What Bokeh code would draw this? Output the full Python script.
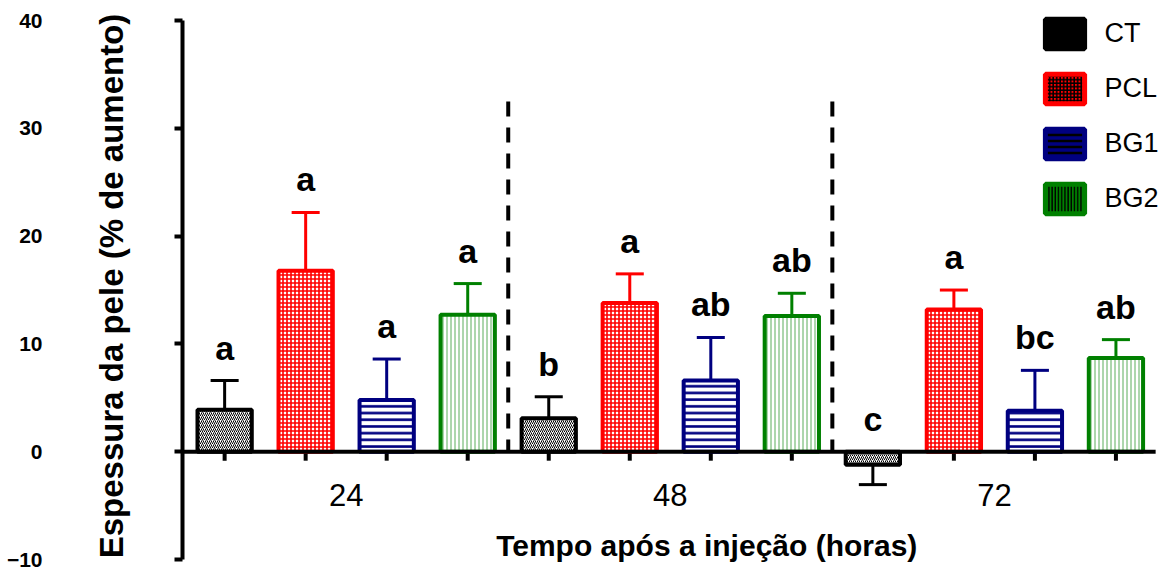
from bokeh.plotting import figure
from bokeh.models import (Range1d, Legend, LegendItem, FixedTicker, LinearAxis)
from bokeh.core.properties import value
from bokeh.embed import file_html
from bokeh.resources import INLINE

# ---------------- data ----------------
times = ["24", "48", "72"]
groups = ["CT", "PCL", "BG1", "BG2"]
ct_mean = [3.9, 3.1, -1.2]
ct_sd = [2.7, 2.0, 1.85]
pcl_mean = [16.8, 13.8, 13.2]
pcl_sd = [5.4, 2.7, 1.8]
bg1_mean = [4.8, 6.6, 3.8]
bg1_sd = [3.8, 4.0, 3.75]
bg2_mean = [12.7, 12.6, 8.7]
bg2_sd = [2.9, 2.1, 1.7]
ct_letters = ["a", "b", "c"]
pcl_letters = ["a", "a", "a"]
bg1_letters = ["a", "ab", "bc"]
bg2_letters = ["a", "ab", "ab"]
y_ticks = [-10, 0, 10, 20, 30, 40]
y_title = "Espessura da pele (% de aumento)"
x_title = "Tempo após a injeção (horas)"

FONT = "Liberation Sans"
colors = {"CT": "black", "PCL": "#FF0000", "BG1": "#000080", "BG2": "#008000"}
bar_hatch = {
    "CT": dict(hatch_pattern="/", hatch_color="black", hatch_scale=4, hatch_weight=1),
    "PCL": dict(hatch_pattern="+", hatch_color="#FF0000", hatch_scale=4, hatch_weight=1.6),
    "BG1": dict(hatch_pattern="-", hatch_color="#000080", hatch_scale=6.7, hatch_weight=2.6),
    "BG2": dict(hatch_pattern="|", hatch_color="#5aad5a", hatch_scale=4, hatch_weight=1),
}
leg_hatch = {
    "CT": dict(hatch_pattern=None),
    "PCL": dict(hatch_pattern="+", hatch_color="black", hatch_scale=3.5, hatch_weight=1.6),
    "BG1": dict(hatch_pattern="-", hatch_color="black", hatch_scale=6, hatch_weight=2.5),
    "BG2": dict(hatch_pattern="|", hatch_color="black", hatch_scale=3.2, hatch_weight=1.5),
}

means = {"CT": ct_mean, "PCL": pcl_mean, "BG1": bg1_mean, "BG2": bg2_mean}
sds = {"CT": ct_sd, "PCL": pcl_sd, "BG1": bg1_sd, "BG2": bg2_sd}
letters = {"CT": ct_letters, "PCL": pcl_letters, "BG1": bg1_letters, "BG2": bg2_letters}

ng = len(groups)
nt = len(times)

X0 = -0.52
p = figure(width=1163, height=571, x_range=Range1d(X0, 11.587), y_range=Range1d(-11.11, 41.86),
           output_backend="svg", toolbar_location=None, x_axis_location=None,
           min_border_left=182, min_border_right=0, min_border_top=0, min_border_bottom=0)
p.outline_line_color = None
p.grid.visible = False
p.background_fill_color = "white"

# inner y axis: line, ticks and title
ya = p.yaxis[0]
ya.ticker = FixedTicker(ticks=y_ticks)
ya.bounds = (min(y_ticks), max(y_ticks))
ya.axis_line_width = 4
ya.major_tick_line_width = 4
ya.major_tick_out = 8
ya.major_tick_in = 0
ya.minor_tick_line_color = None
ya.major_label_overrides = {t: "" for t in y_ticks}
ya.major_label_standoff = 0
ya.axis_label = y_title
ya.axis_label_standoff = 45
ya.axis_label_text_font = FONT
ya.axis_label_text_font_style = "bold"
ya.axis_label_text_font_size = "33px"
ya.axis_label_text_color = "black"

# outer y axis: tick labels only
yb = LinearAxis(ticker=FixedTicker(ticks=y_ticks), bounds=(min(y_ticks), max(y_ticks)),
                axis_line_color=None, major_tick_line_color=None, minor_tick_line_color=None,
                major_tick_out=0, major_tick_in=0, major_label_standoff=47,
                major_label_text_font=FONT, major_label_text_font_style="bold",
                major_label_text_font_size="21px", major_label_text_color="black")
p.add_layout(yb, "left")

tick_len = 0.83
cap_half = 0.173

# x tick marks under every bar
all_x = [ti * ng + gi for ti in range(nt) for gi in range(ng)]
p.segment(x0=all_x, y0=[0] * len(all_x), x1=all_x, y1=[-tick_len] * len(all_x),
          line_color="black", line_width=4)

items = []
for gi, g in enumerate(groups):
    xs = [ti * ng + gi for ti in range(nt)]
    m = means[g]
    s = sds[g]
    ends = [mi + si if mi >= 0 else mi - si for mi, si in zip(m, s)]
    col = colors[g]
    p.segment(x0=xs, y0=m, x1=xs, y1=ends, line_color=col, line_width=3)
    p.segment(x0=[x - cap_half for x in xs], y0=ends, x1=[x + cap_half for x in xs], y1=ends,
              line_color=col, line_width=3)
    p.vbar(x=xs, top=m, bottom=0, width=0.67, fill_color="white", line_color=col,
           line_width=4, **bar_hatch[g])
    ly = [max(mi + si, 0) if mi >= 0 else 0 for mi, si in zip(m, s)]
    p.text(x=xs, y=ly, text=letters[g], y_offset=-33, text_align="center",
           text_baseline="alphabetic", text_font=value(FONT), text_font_style="bold",
           text_font_size="34px", text_color="black")
    # hidden proxy renderer that only provides the legend swatch
    r = p.vbar(x=xs, top=m, width=0.5, fill_color=col, line_color=col, line_width=5,
               visible=False, **leg_hatch[g])
    items.append(LegendItem(label=g, renderers=[r]))

# dashed separators between time groups
sep_x = [ti * ng - 0.5 for ti in range(1, nt)]
p.segment(x0=sep_x, y0=[32.5] * len(sep_x), x1=sep_x, y1=[0] * len(sep_x),
          line_color="black", line_width=4, line_dash="15 11")

# baseline (x axis at zero)
p.segment(x0=[X0], y0=[0], x1=[11.49], y1=[0], line_color="black", line_width=4)

# time labels
gx = [ti * ng + (ng - 1) / 2 for ti in range(nt)]
p.text(x=gx, y=[0] * nt, text=times, y_offset=43.5, text_align="center",
       text_baseline="alphabetic", text_font=value(FONT), text_font_size="31px",
       text_color="black")

# x title
p.text(x=[(ng * nt - 1) / 2 + 0.45], y=[0], text=[x_title], y_offset=94, text_align="center",
       text_baseline="alphabetic", text_font=value(FONT), text_font_style="bold",
       text_font_size="30px", text_color="black")

legend = Legend(items=items, location=(857.5, 354.2), glyph_width=49, glyph_height=37,
                spacing=18, padding=0, margin=0, label_standoff=16,
                label_text_font=FONT, label_text_font_size="27px", label_text_color="black",
                border_line_color=None, background_fill_alpha=0,
                inactive_fill_alpha=0)
p.add_layout(legend)

open("out.html", "w").write(file_html(p, INLINE))
